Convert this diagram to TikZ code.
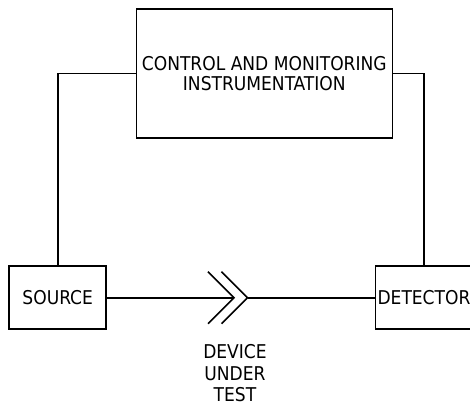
\documentclass[tikz,border=0pt]{standalone}
\usepackage{fontspec}
\setmainfont{DejaVu Sans Condensed}
\usetikzlibrary{calc}
\begin{document}
\begin{tikzpicture}[x=1pt,y=-1pt,
  blk/.style={draw,line width=1.6pt,inner sep=0pt,align=center,font=\fontsize{19}{20.5}\selectfont},
  wire/.style={line width=1.6pt},
  lbl/.style={align=center,inner sep=0pt,font=\fontsize{19}{21.5}\selectfont}]
\useasboundingbox (0,0) rectangle (470,406);
\node[blk,minimum width=256pt,minimum height=129pt] (ctrl) at (264.3,73.5) {CONTROL AND MONITORING\\INSTRUMENTATION};
\node[blk,minimum width=97pt,minimum height=63pt] (src) at (57.7,297.7) {SOURCE};
\node[blk,minimum width=97pt,minimum height=63pt] (det) at (424,297.7) {DETECTOR};
\coordinate (a1) at (234,297.7);
\coordinate (a2) at (247.5,297.7);
\draw[wire] (ctrl.west) -| (src.north);
\draw[wire] (ctrl.east) -| (det.north);
\draw[wire] (src.east) -- (a1);
\draw[wire] (a2) -- (det.west);
\draw[wire] ($(a1)+(-26,-26)$) -- (a1) -- ($(a1)+(-26,26)$);
\draw[wire] ($(a2)+(-26,-26)$) -- (a2) -- ($(a2)+(-26,26)$);
\node[lbl] (dut) at (235,373.5) {DEVICE\\UNDER\\TEST};
\end{tikzpicture}
\end{document}
